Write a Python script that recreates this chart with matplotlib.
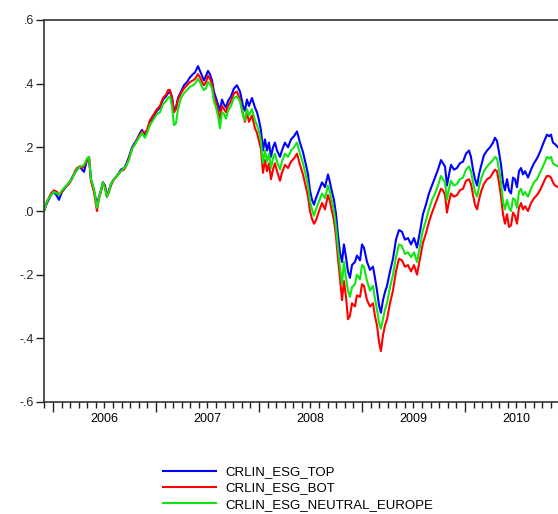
import matplotlib.pyplot as plt
from matplotlib.ticker import FixedLocator, FixedFormatter

plt.rcParams['font.family'] = ['Liberation Sans', 'DejaVu Sans']

# decimal-year dates of the sampled observations
t = [2005.913, 2005.942, 2005.981, 2006.010, 2006.039, 2006.058, 2006.087, 2006.117,
     2006.155, 2006.184, 2006.214, 2006.233, 2006.262, 2006.282, 2006.301, 2006.330,
     2006.350, 2006.369, 2006.398, 2006.417, 2006.427, 2006.447, 2006.466, 2006.485,
     2006.505, 2006.524, 2006.544, 2006.563, 2006.592, 2006.621, 2006.660, 2006.689,
     2006.709, 2006.738, 2006.767, 2006.796, 2006.816, 2006.845, 2006.864, 2006.893,
     2006.913, 2006.942, 2006.971, 2007.010, 2007.039, 2007.068, 2007.097, 2007.117,
     2007.136, 2007.155, 2007.175, 2007.194, 2007.214, 2007.243, 2007.272, 2007.301,
     2007.330, 2007.359, 2007.379, 2007.408, 2007.427, 2007.447, 2007.466, 2007.485,
     2007.505, 2007.524, 2007.544, 2007.563, 2007.583, 2007.602, 2007.621, 2007.641,
     2007.660, 2007.680, 2007.699, 2007.728, 2007.757, 2007.786, 2007.816, 2007.845,
     2007.864, 2007.883, 2007.903, 2007.932, 2007.961, 2007.981, 2008.000, 2008.019,
     2008.039, 2008.058, 2008.078, 2008.097, 2008.117, 2008.136, 2008.155, 2008.175,
     2008.204, 2008.223, 2008.252, 2008.282, 2008.311, 2008.340, 2008.369, 2008.398,
     2008.427, 2008.456, 2008.476, 2008.495, 2008.515, 2008.534, 2008.553, 2008.583,
     2008.612, 2008.641, 2008.670, 2008.689, 2008.709, 2008.728, 2008.748, 2008.767,
     2008.786, 2008.806, 2008.825, 2008.845, 2008.864, 2008.883, 2008.903, 2008.932,
     2008.951, 2008.981, 2009.000, 2009.019, 2009.049, 2009.078, 2009.107, 2009.126,
     2009.146, 2009.165, 2009.184, 2009.204, 2009.223, 2009.243, 2009.272, 2009.301,
     2009.330, 2009.359, 2009.388, 2009.417, 2009.447, 2009.476, 2009.505, 2009.534,
     2009.563, 2009.592, 2009.621, 2009.650, 2009.680, 2009.709, 2009.738, 2009.767,
     2009.786, 2009.806, 2009.825, 2009.845, 2009.864, 2009.893, 2009.922, 2009.951,
     2009.981, 2010.010, 2010.039, 2010.058, 2010.078, 2010.097, 2010.117, 2010.136,
     2010.155, 2010.184, 2010.214, 2010.243, 2010.272, 2010.291, 2010.311, 2010.330,
     2010.350, 2010.369, 2010.388, 2010.408, 2010.427, 2010.447, 2010.466, 2010.485,
     2010.505, 2010.524, 2010.544, 2010.563, 2010.583, 2010.612, 2010.641, 2010.670,
     2010.699, 2010.728, 2010.757, 2010.777, 2010.796, 2010.816, 2010.835, 2010.854,
     2010.874, 2010.903]

esg_top = [0.000, 0.025, 0.050, 0.060, 0.047, 0.035, 0.060, 0.072,
           0.088, 0.104, 0.120, 0.130, 0.140, 0.130, 0.123, 0.160,
           0.170, 0.100, 0.065, 0.035, 0.020, 0.045, 0.065, 0.090,
           0.080, 0.045, 0.065, 0.085, 0.100, 0.110, 0.130, 0.135,
           0.145, 0.170, 0.200, 0.215, 0.225, 0.245, 0.255, 0.240,
           0.250, 0.280, 0.290, 0.315, 0.325, 0.350, 0.360, 0.370,
           0.375, 0.360, 0.315, 0.325, 0.355, 0.375, 0.395, 0.405,
           0.420, 0.430, 0.435, 0.455, 0.440, 0.425, 0.410, 0.425,
           0.440, 0.430, 0.410, 0.375, 0.355, 0.335, 0.315, 0.350,
           0.335, 0.325, 0.345, 0.360, 0.385, 0.395, 0.375, 0.330,
           0.315, 0.350, 0.330, 0.355, 0.325, 0.310, 0.285, 0.255,
           0.190, 0.225, 0.190, 0.215, 0.170, 0.200, 0.215, 0.190,
           0.170, 0.190, 0.215, 0.200, 0.225, 0.235, 0.250, 0.215,
           0.185, 0.145, 0.115, 0.065, 0.035, 0.020, 0.040, 0.065,
           0.090, 0.075, 0.115, 0.090, 0.060, 0.035, -0.010, -0.075,
           -0.130, -0.160, -0.105, -0.145, -0.190, -0.210, -0.170, -0.160,
           -0.140, -0.155, -0.105, -0.115, -0.160, -0.185, -0.175, -0.210,
           -0.250, -0.295, -0.320, -0.280, -0.255, -0.235, -0.190, -0.150,
           -0.090, -0.060, -0.065, -0.090, -0.085, -0.105, -0.085, -0.115,
           -0.065, -0.010, 0.020, 0.055, 0.080, 0.105, 0.130, 0.160,
           0.150, 0.140, 0.080, 0.115, 0.145, 0.130, 0.135, 0.150,
           0.155, 0.180, 0.190, 0.170, 0.130, 0.100, 0.080, 0.115,
           0.140, 0.175, 0.190, 0.200, 0.215, 0.230, 0.220, 0.185,
           0.145, 0.090, 0.065, 0.100, 0.065, 0.055, 0.105, 0.100,
           0.075, 0.125, 0.135, 0.115, 0.125, 0.105, 0.130, 0.150,
           0.165, 0.185, 0.210, 0.225, 0.240, 0.235, 0.240, 0.215,
           0.210, 0.200]

esg_bot = [0.000, 0.030, 0.055, 0.065, 0.060, 0.050, 0.060, 0.075,
           0.085, 0.100, 0.125, 0.135, 0.140, 0.135, 0.140, 0.160,
           0.165, 0.095, 0.060, 0.020, 0.000, 0.040, 0.060, 0.090,
           0.075, 0.045, 0.060, 0.080, 0.100, 0.110, 0.125, 0.130,
           0.140, 0.165, 0.195, 0.210, 0.225, 0.240, 0.250, 0.245,
           0.255, 0.285, 0.300, 0.320, 0.330, 0.355, 0.365, 0.380,
           0.380, 0.355, 0.310, 0.320, 0.350, 0.370, 0.385, 0.395,
           0.405, 0.410, 0.415, 0.430, 0.420, 0.405, 0.395, 0.405,
           0.425, 0.415, 0.400, 0.360, 0.340, 0.315, 0.290, 0.330,
           0.320, 0.310, 0.330, 0.345, 0.370, 0.375, 0.350, 0.305,
           0.280, 0.310, 0.280, 0.300, 0.260, 0.245, 0.220, 0.195,
           0.120, 0.160, 0.125, 0.150, 0.100, 0.130, 0.150, 0.125,
           0.095, 0.120, 0.145, 0.135, 0.155, 0.165, 0.180, 0.145,
           0.115, 0.075, 0.045, 0.000, -0.025, -0.040, -0.030, 0.000,
           0.025, 0.005, 0.050, 0.030, 0.000, -0.030, -0.080, -0.150,
           -0.210, -0.280, -0.220, -0.270, -0.340, -0.330, -0.290, -0.300,
           -0.265, -0.270, -0.230, -0.235, -0.280, -0.300, -0.290, -0.330,
           -0.360, -0.410, -0.440, -0.390, -0.360, -0.340, -0.290, -0.250,
           -0.190, -0.150, -0.155, -0.175, -0.170, -0.190, -0.170, -0.200,
           -0.150, -0.100, -0.070, -0.035, -0.005, 0.020, 0.045, 0.070,
           0.065, 0.050, -0.005, 0.030, 0.055, 0.045, 0.050, 0.065,
           0.070, 0.095, 0.100, 0.085, 0.050, 0.020, 0.005, 0.035,
           0.060, 0.085, 0.100, 0.105, 0.120, 0.130, 0.125, 0.090,
           0.045, -0.010, -0.040, -0.010, -0.050, -0.045, -0.005, -0.015,
           -0.040, 0.010, 0.025, 0.005, 0.015, 0.000, 0.025, 0.040,
           0.050, 0.065, 0.085, 0.100, 0.110, 0.110, 0.105, 0.090,
           0.080, 0.075]

esg_neutral = [0.000, 0.030, 0.050, 0.060, 0.055, 0.050, 0.065, 0.075,
               0.090, 0.100, 0.120, 0.130, 0.140, 0.140, 0.145, 0.165,
               0.170, 0.100, 0.070, 0.030, 0.010, 0.040, 0.065, 0.090,
               0.070, 0.045, 0.060, 0.085, 0.100, 0.110, 0.125, 0.135,
               0.140, 0.160, 0.195, 0.210, 0.220, 0.235, 0.245, 0.230,
               0.245, 0.270, 0.285, 0.305, 0.310, 0.335, 0.345, 0.355,
               0.360, 0.330, 0.270, 0.275, 0.320, 0.355, 0.370, 0.380,
               0.390, 0.395, 0.400, 0.415, 0.405, 0.390, 0.380, 0.385,
               0.405, 0.400, 0.385, 0.345, 0.325, 0.300, 0.260, 0.310,
               0.305, 0.290, 0.315, 0.330, 0.355, 0.360, 0.345, 0.300,
               0.285, 0.320, 0.300, 0.320, 0.285, 0.270, 0.250, 0.220,
               0.150, 0.190, 0.155, 0.180, 0.135, 0.165, 0.180, 0.155,
               0.130, 0.155, 0.180, 0.170, 0.190, 0.200, 0.215, 0.180,
               0.150, 0.110, 0.080, 0.030, 0.005, -0.015, 0.005, 0.030,
               0.055, 0.040, 0.080, 0.060, 0.030, 0.000, -0.050, -0.115,
               -0.175, -0.230, -0.160, -0.210, -0.250, -0.270, -0.240, -0.230,
               -0.200, -0.215, -0.170, -0.175, -0.220, -0.250, -0.235, -0.275,
               -0.310, -0.350, -0.370, -0.340, -0.310, -0.290, -0.240, -0.200,
               -0.145, -0.105, -0.110, -0.135, -0.130, -0.145, -0.130, -0.160,
               -0.110, -0.060, -0.030, 0.005, 0.035, 0.055, 0.080, 0.110,
               0.100, 0.090, 0.035, 0.070, 0.095, 0.080, 0.085, 0.100,
               0.105, 0.130, 0.140, 0.125, 0.090, 0.060, 0.045, 0.075,
               0.100, 0.125, 0.140, 0.150, 0.160, 0.170, 0.165, 0.130,
               0.090, 0.030, 0.005, 0.035, 0.010, 0.000, 0.040, 0.035,
               0.010, 0.060, 0.070, 0.050, 0.060, 0.045, 0.070, 0.090,
               0.100, 0.120, 0.140, 0.155, 0.170, 0.165, 0.170, 0.150,
               0.145, 0.140]

years = [2006, 2007, 2008, 2009, 2010]
y_ticks = [0.6, 0.4, 0.2, 0.0, -0.2, -0.4, -0.6]
y_labels = ['.6', '.4', '.2', '.0', '-.2', '-.4', '-.6']

fig = plt.figure(figsize=(5.58, 5.14), dpi=100)
ax = fig.add_axes([44 / 558, 112 / 514, 514 / 558, 382 / 514])

ax.plot(t, esg_top, color='#0000ff', lw=1.5, label='CRLIN_ESG_TOP')
ax.plot(t, esg_bot, color='#ff0000', lw=1.5, label='CRLIN_ESG_BOT')
ax.plot(t, esg_neutral, color='#11e611', lw=1.5, label='CRLIN_ESG_NEUTRAL_EUROPE')

ax.set_xlim(t[0], t[-1])
ax.set_ylim(-0.6, 0.6)

# y axis
ax.set_yticks(y_ticks)
ax.set_yticklabels(y_labels, fontsize=9)
ax.tick_params(axis='y', direction='out', length=6, width=1, pad=1, colors='#222222')

# x axis: long ticks at year starts, short monthly ticks, labels at mid-year
months = [2005 + 11 / 12 + i / 12 for i in range(60)]
ax.xaxis.set_major_locator(FixedLocator(years))
ax.xaxis.set_major_formatter(FixedFormatter([''] * len(years)))
ax.xaxis.set_minor_locator(FixedLocator(months))
ax.tick_params(axis='x', which='major', direction='out', length=7, width=1, colors='#222222')
ax.tick_params(axis='x', which='minor', direction='out', length=4, width=1, colors='#222222')

lab = ax.secondary_xaxis('bottom')
lab.set_xticks([y + 0.5 for y in years])
lab.set_xticklabels([str(y) for y in years], fontsize=9)
lab.tick_params(length=0, pad=8)
lab.spines['bottom'].set_visible(False)

for side in ['left', 'bottom', 'top']:
    ax.spines[side].set_linewidth(1.2)
    ax.spines[side].set_color('#333333')
ax.spines['right'].set_visible(False)

fig.legend(loc='upper left', bbox_to_anchor=(163 / 558, 1 - 466 / 514),
           frameon=False, fontsize=9.5, handlelength=4.0, handletextpad=0.75,
           labelspacing=0.3, borderpad=0, borderaxespad=0)

fig.savefig('out.png', dpi=100, facecolor='white')
